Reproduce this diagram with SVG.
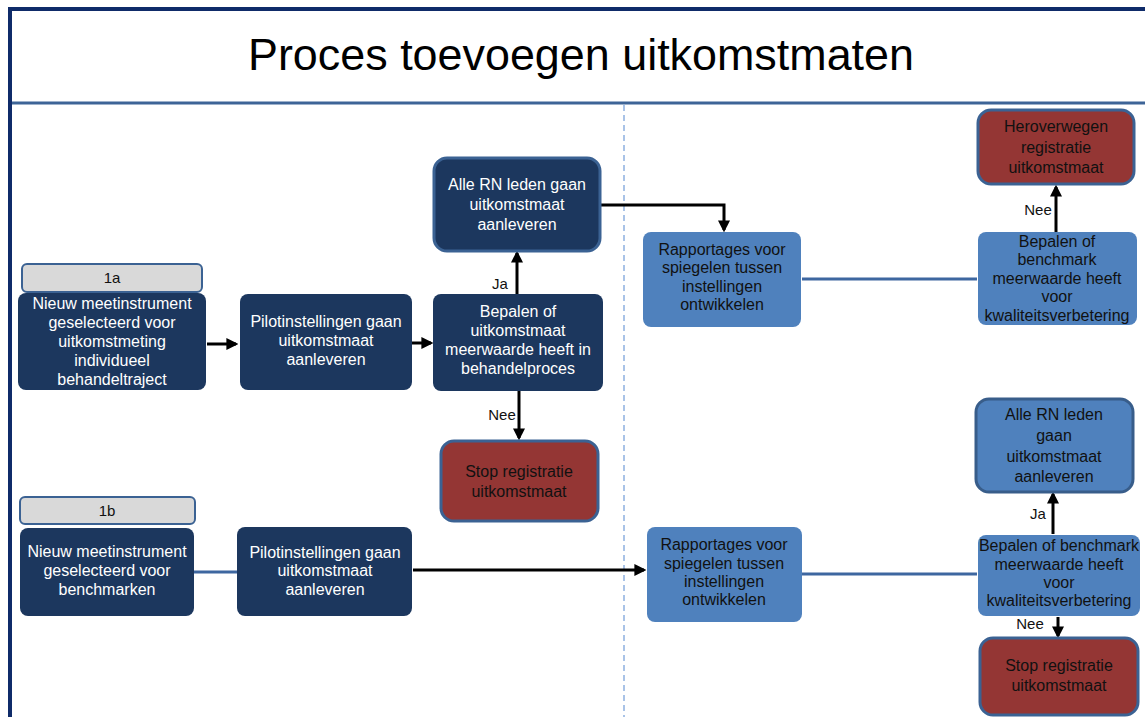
<svg xmlns="http://www.w3.org/2000/svg" width="1145" height="717" viewBox="0 0 1145 717">
<defs>
<marker id="ah" markerWidth="4" markerHeight="4" refX="3.2" refY="2" orient="auto" markerUnits="strokeWidth">
<path d="M0,0 L4,2 L0,4 Z" fill="#000"/>
</marker>
<style>
text{font-family:"Liberation Sans",Arial,sans-serif;}
.t{font-size:16px;text-anchor:middle;}
.w{fill:#ffffff;}
.k{fill:#111111;}
.navy{fill:#1c375e;}
.navyb{fill:#1c375e;stroke:#3b6293;stroke-width:3;}
.blue{fill:#4f81bd;}
.blueb{fill:#4f81bd;stroke:#385d8a;stroke-width:3;}
.red{fill:#943634;stroke:#3b6293;stroke-width:3;}
.tag{fill:#d9d9d9;stroke:#3b6293;stroke-width:2;}
.lab{font-size:15px;fill:#111;text-anchor:middle;}
.arr{stroke:#000;stroke-width:3;fill:none;marker-end:url(#ah);}
.bl{stroke:#3e67a0;stroke-width:3;fill:none;}
</style>
</defs>
<rect x="0" y="0" width="1145" height="717" fill="#ffffff"/>
<g id="frame">
<line x1="8" y1="9" x2="1145" y2="9" stroke="#0f2b69" stroke-width="4"/>
<line x1="10" y1="7" x2="10" y2="717" stroke="#0f2b69" stroke-width="4"/>
<line x1="12" y1="103" x2="1145" y2="103" stroke="#3d6497" stroke-width="3"/>
<line x1="624" y1="105" x2="624" y2="717" stroke="#8db0e0" stroke-width="1.5" stroke-dasharray="6 4"/>
<text x="581" y="70" font-size="45" text-anchor="middle" fill="#000" textLength="666" lengthAdjust="spacingAndGlyphs">Proces toevoegen uitkomstmaten</text>
</g>
<g id="connectors">
<line class="arr" x1="207" y1="344" x2="236" y2="344"/>
<line class="arr" x1="412" y1="343" x2="431" y2="343"/>
<line class="arr" x1="517" y1="294" x2="517" y2="253"/>
<line class="arr" x1="519" y1="391" x2="519" y2="438"/>
<polyline class="arr" points="600,205 724,205 724,230"/>
<line class="bl" x1="802" y1="279" x2="977" y2="279"/>
<line class="arr" x1="1056" y1="232" x2="1056" y2="187"/>
<line class="bl" x1="194" y1="572" x2="237" y2="572"/>
<line class="arr" x1="413" y1="570" x2="644" y2="570"/>
<line class="bl" x1="802" y1="574" x2="977" y2="574"/>
<line class="arr" x1="1053" y1="534" x2="1053" y2="494"/>
<line class="arr" x1="1058" y1="617" x2="1058" y2="636"/>
<text class="lab" x="500" y="289">Ja</text>
<text class="lab" x="502" y="420">Nee</text>
<text class="lab" x="1038" y="215">Nee</text>
<text class="lab" x="1038" y="519">Ja</text>
<text class="lab" x="1030" y="629">Nee</text>
</g>
<g id="tag1a">
<rect class="tag" x="22" y="264" width="180" height="28" rx="5"/>
<text class="lab" x="112" y="283">1a</text>
</g>
<g id="a1">
<rect class="navy" x="18" y="293" width="188" height="97" rx="8"/>
<text class="t w" x="112" y="309">Nieuw meetinstrument</text>
<text class="t w" x="112" y="328">geselecteerd voor</text>
<text class="t w" x="112" y="347">uitkomstmeting</text>
<text class="t w" x="112" y="366">individueel</text>
<text class="t w" x="112" y="385">behandeltraject</text>
</g>
<g id="a2">
<rect class="navy" x="240" y="294" width="172" height="96" rx="8"/>
<text class="t w" x="326" y="327">Pilotinstellingen gaan</text>
<text class="t w" x="326" y="346">uitkomstmaat</text>
<text class="t w" x="326" y="365">aanleveren</text>
</g>
<g id="a3">
<rect class="navy" x="433" y="294" width="170" height="97" rx="8"/>
<text class="t w" x="518" y="317">Bepalen of</text>
<text class="t w" x="518" y="336">uitkomstmaat</text>
<text class="t w" x="518" y="355">meerwaarde heeft in</text>
<text class="t w" x="518" y="374">behandelproces</text>
</g>
<g id="a4">
<rect class="navyb" x="434" y="158" width="166" height="93" rx="13"/>
<text class="t w" x="517" y="190">Alle RN leden gaan</text>
<text class="t w" x="517" y="210">uitkomstmaat</text>
<text class="t w" x="517" y="230">aanleveren</text>
</g>
<g id="stop1">
<rect class="red" x="441" y="441" width="157" height="80" rx="13"/>
<text class="t k" x="519" y="477">Stop registratie</text>
<text class="t k" x="519" y="497">uitkomstmaat</text>
</g>
<g id="r1">
<rect class="blue" x="643" y="232" width="158" height="95" rx="8"/>
<text class="t k" x="722" y="255">Rapportages voor</text>
<text class="t k" x="722" y="273">spiegelen tussen</text>
<text class="t k" x="722" y="292">instellingen</text>
<text class="t k" x="722" y="310">ontwikkelen</text>
</g>
<g id="r2">
<rect class="blue" x="978" y="232" width="159" height="93" rx="8"/>
<text class="t k" x="1057" y="247">Bepalen of</text>
<text class="t k" x="1057" y="265">benchmark</text>
<text class="t k" x="1057" y="284">meerwaarde heeft</text>
<text class="t k" x="1057" y="302">voor</text>
<text class="t k" x="1057" y="321">kwaliteitsverbetering</text>
</g>
<g id="herov">
<rect class="red" x="978" y="110" width="156" height="74" rx="13"/>
<text class="t k" x="1056" y="132">Heroverwegen</text>
<text class="t k" x="1056" y="153">registratie</text>
<text class="t k" x="1056" y="173">uitkomstmaat</text>
</g>
<g id="tag1b">
<rect class="tag" x="20" y="497" width="175" height="27" rx="5"/>
<text class="lab" x="107" y="516">1b</text>
</g>
<g id="b1">
<rect class="navy" x="20" y="528" width="174" height="88" rx="8"/>
<text class="t w" x="107" y="557">Nieuw meetinstrument</text>
<text class="t w" x="107" y="576">geselecteerd voor</text>
<text class="t w" x="107" y="595">benchmarken</text>
</g>
<g id="b2">
<rect class="navy" x="237" y="527" width="175" height="89" rx="8"/>
<text class="t w" x="325" y="558">Pilotinstellingen gaan</text>
<text class="t w" x="325" y="576">uitkomstmaat</text>
<text class="t w" x="325" y="595">aanleveren</text>
</g>
<g id="r3">
<rect class="blue" x="647" y="527" width="155" height="95" rx="8"/>
<text class="t k" x="724" y="550">Rapportages voor</text>
<text class="t k" x="724" y="569">spiegelen tussen</text>
<text class="t k" x="724" y="587">instellingen</text>
<text class="t k" x="724" y="605">ontwikkelen</text>
</g>
<g id="r4">
<rect class="blue" x="978" y="535" width="162" height="81" rx="8"/>
<text class="t k" x="1059" y="551">Bepalen of benchmark</text>
<text class="t k" x="1059" y="570">meerwaarde heeft</text>
<text class="t k" x="1059" y="588">voor</text>
<text class="t k" x="1059" y="606">kwaliteitsverbetering</text>
</g>
<g id="alle2">
<rect class="blueb" x="976" y="399" width="157" height="93" rx="13"/>
<text class="t k" x="1054" y="420">Alle RN leden</text>
<text class="t k" x="1054" y="441">gaan</text>
<text class="t k" x="1054" y="462">uitkomstmaat</text>
<text class="t k" x="1054" y="482">aanleveren</text>
</g>
<g id="stop2">
<rect class="red" x="980" y="638" width="158" height="77" rx="13"/>
<text class="t k" x="1059" y="671">Stop registratie</text>
<text class="t k" x="1059" y="691">uitkomstmaat</text>
</g>
</svg>
